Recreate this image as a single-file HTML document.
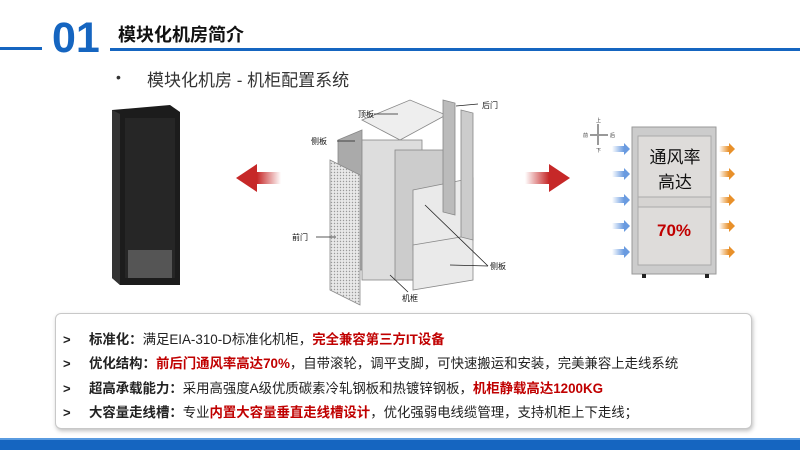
<!DOCTYPE html>
<html><head><meta charset="utf-8"><style>
*{margin:0;padding:0;box-sizing:border-box}
body{width:800px;height:450px;background:#fff;position:relative;overflow:hidden;font-family:"Liberation Sans","Noto Sans CJK SC",sans-serif}
.a{position:absolute}
.box{left:55px;top:313px;width:697px;height:116px;border:1px solid #c8c8c8;border-radius:6px;box-shadow:1px 2px 4px rgba(0,0,0,.25);background:#fff}
.ln{position:absolute;left:63px;font-size:13.4px;color:#222;white-space:nowrap}
.ln b{font-weight:bold}
.r{color:#c00000;font-weight:bold}
.ar{display:inline-block;width:26px;font-size:13px;font-weight:bold}
</style></head><body>
<div class="a" style="left:0;top:47px;width:42px;height:3px;background:#1565c0"></div>
<div class="a" style="left:52px;top:14px;font-size:43px;font-weight:bold;color:#1565c0;line-height:48px">01</div>
<div class="a" style="left:110px;top:48px;width:690px;height:3px;background:#1565c0"></div>
<div class="a" style="left:118px;top:21px;font-size:18px;font-weight:bold;color:#111">模块化机房简介</div>
<div class="a" style="left:116px;top:69px;font-size:14px;color:#333">•</div>
<div class="a" style="left:147px;top:66px;font-size:17px;color:#333">模块化机房 - 机柜配置系统</div>

<svg class="a" style="left:0;top:0" width="800" height="310">
<defs>
<linearGradient id="rl" x1="0" x2="1"><stop offset="0" stop-color="#c62828"/><stop offset="1" stop-color="#fff"/></linearGradient>
<linearGradient id="rr" x1="0" x2="1"><stop offset="0" stop-color="#fff"/><stop offset="1" stop-color="#c62828"/></linearGradient>
<linearGradient id="bl" x1="0" x2="1"><stop offset="0" stop-color="#fff"/><stop offset="1" stop-color="#6a9be0"/></linearGradient>
<linearGradient id="or" x1="0" x2="1"><stop offset="0" stop-color="#fff"/><stop offset="1" stop-color="#e8902a"/></linearGradient>
<pattern id="dt" width="3" height="3" patternUnits="userSpaceOnUse"><rect width="3" height="3" fill="#e8e8e8"/><circle cx="1.5" cy="1.5" r=".7" fill="#999"/></pattern>
</defs>
<polygon points="112,110 170,105 180,112 180,285 120,285 112,278" fill="#1c1c1c"/>
<polygon points="112,110 120,114 120,285 112,278" fill="#333"/>
<rect x="125" y="118" width="50" height="160" fill="#262626"/>
<rect x="128" y="250" width="44" height="28" fill="#555"/>
<polygon points="236,178 257,164 257,192" fill="#c62828"/>
<rect x="257" y="172" width="24" height="12" fill="url(#rl)"/>
<polygon points="570,178 549,164 549,192" fill="#c62828"/>
<rect x="525" y="172" width="24" height="12" fill="url(#rr)"/>
<g stroke="#888" stroke-width=".8">
<polygon points="338,140 362,130 362,270 338,270" fill="#aaa"/>
<polygon points="362,120 410,100 446,115 400,140" fill="#eee"/>
<rect x="362" y="140" width="60" height="140" fill="#ddd"/>
<rect x="395" y="150" width="55" height="130" fill="#ccc"/>
<polygon points="330,160 360,175 360,305 330,290" fill="url(#dt)"/>
<polygon points="413,190 473,178 473,240 413,250" fill="#eaeaea"/>
<polygon points="413,245 473,235 473,280 413,290" fill="#eaeaea"/>
<polygon points="443,100 455,103 455,215 443,212" fill="#bbb"/>
<polygon points="461,110 473,113 473,240 461,237" fill="#ccc"/>
</g>
<g stroke="#222" stroke-width=".8" fill="none">
<line x1="374" y1="114" x2="398" y2="114"/><line x1="337" y1="141" x2="355" y2="141"/>
<line x1="456" y1="106" x2="478" y2="104"/><line x1="316" y1="237" x2="336" y2="237"/>
<line x1="425" y1="205" x2="488" y2="266"/><line x1="450" y1="265" x2="488" y2="266"/>
<line x1="390" y1="275" x2="408" y2="292"/>
</g>
<g font-size="8" fill="#111" font-family="Liberation Sans,Noto Sans CJK SC,sans-serif">
<text x="358" y="117">顶板</text><text x="311" y="144">侧板</text><text x="482" y="108">后门</text>
<text x="292" y="240">前门</text><text x="490" y="269">侧板</text><text x="402" y="301">机框</text>
</g>
<g stroke="#999" stroke-width="2"><line x1="590" y1="135" x2="608" y2="135"/><line x1="598" y1="124" x2="598" y2="145"/></g>
<g font-size="5" fill="#333"><text x="596" y="122">上</text><text x="583" y="137">前</text><text x="610" y="137">后</text><text x="596" y="152">下</text></g>
<rect x="632" y="127" width="84" height="147" fill="#ccc" stroke="#999"/>
<rect x="638" y="136" width="73" height="61" fill="#dedcda" stroke="#aaa"/>
<rect x="638" y="197" width="73" height="10" fill="#d6d4d2" stroke="#aaa"/>
<rect x="638" y="207" width="73" height="58" fill="#dedcda" stroke="#aaa"/>
<rect x="642" y="274" width="4" height="4" fill="#222"/><rect x="705" y="274" width="4" height="4" fill="#222"/>
<g font-family="Liberation Sans,Noto Sans CJK SC,sans-serif" text-anchor="middle">
<text x="675" y="163" font-size="17" fill="#111">通风率</text>
<text x="675" y="188" font-size="17" fill="#111">高达</text>
<text x="674" y="236" font-size="17" font-weight="bold" fill="#c00000">70%</text>
</g>
<g>
<rect x="612" y="146" width="12" height="6" fill="url(#bl)"/><polygon points="624,143 630,149 624,155" fill="#6a9be0"/>
<rect x="612" y="171" width="12" height="6" fill="url(#bl)"/><polygon points="624,168 630,174 624,180" fill="#6a9be0"/>
<rect x="612" y="197" width="12" height="6" fill="url(#bl)"/><polygon points="624,194 630,200 624,206" fill="#6a9be0"/>
<rect x="612" y="223" width="12" height="6" fill="url(#bl)"/><polygon points="624,220 630,226 624,232" fill="#6a9be0"/>
<rect x="612" y="249" width="12" height="6" fill="url(#bl)"/><polygon points="624,246 630,252 624,258" fill="#6a9be0"/>
<rect x="719" y="146" width="10" height="6" fill="url(#or)"/><polygon points="729,143 735,149 729,155" fill="#e8902a"/>
<rect x="719" y="171" width="10" height="6" fill="url(#or)"/><polygon points="729,168 735,174 729,180" fill="#e8902a"/>
<rect x="719" y="197" width="10" height="6" fill="url(#or)"/><polygon points="729,194 735,200 729,206" fill="#e8902a"/>
<rect x="719" y="223" width="10" height="6" fill="url(#or)"/><polygon points="729,220 735,226 729,232" fill="#e8902a"/>
<rect x="719" y="249" width="10" height="6" fill="url(#or)"/><polygon points="729,246 735,252 729,258" fill="#e8902a"/>
</g>
</svg>

<div class="a box"></div>
<div class="ln" style="top:328px"><span class="ar">&gt;</span><b>标准化：</b>满足EIA-310-D标准化机柜，<span class="r">完全兼容第三方IT设备</span></div>
<div class="ln" style="top:352px"><span class="ar">&gt;</span><b>优化结构：</b><span class="r">前后门通风率高达70%</span>，自带滚轮，调平支脚，可快速搬运和安装，完美兼容上走线系统</div>
<div class="ln" style="top:377px"><span class="ar">&gt;</span><b>超高承载能力：</b>采用高强度A级优质碳素冷轧钢板和热镀锌钢板，<span class="r">机柜静载高达1200KG</span></div>
<div class="ln" style="top:401px"><span class="ar">&gt;</span><b>大容量走线槽：</b>专业<span class="r">内置大容量垂直走线槽设计</span>，优化强弱电线缆管理，支持机柜上下走线；</div>
<div class="a" style="left:0;top:438px;width:800px;height:12px;background:#1565c0;border-top:2px solid #5a9be0"></div>
</body></html>
